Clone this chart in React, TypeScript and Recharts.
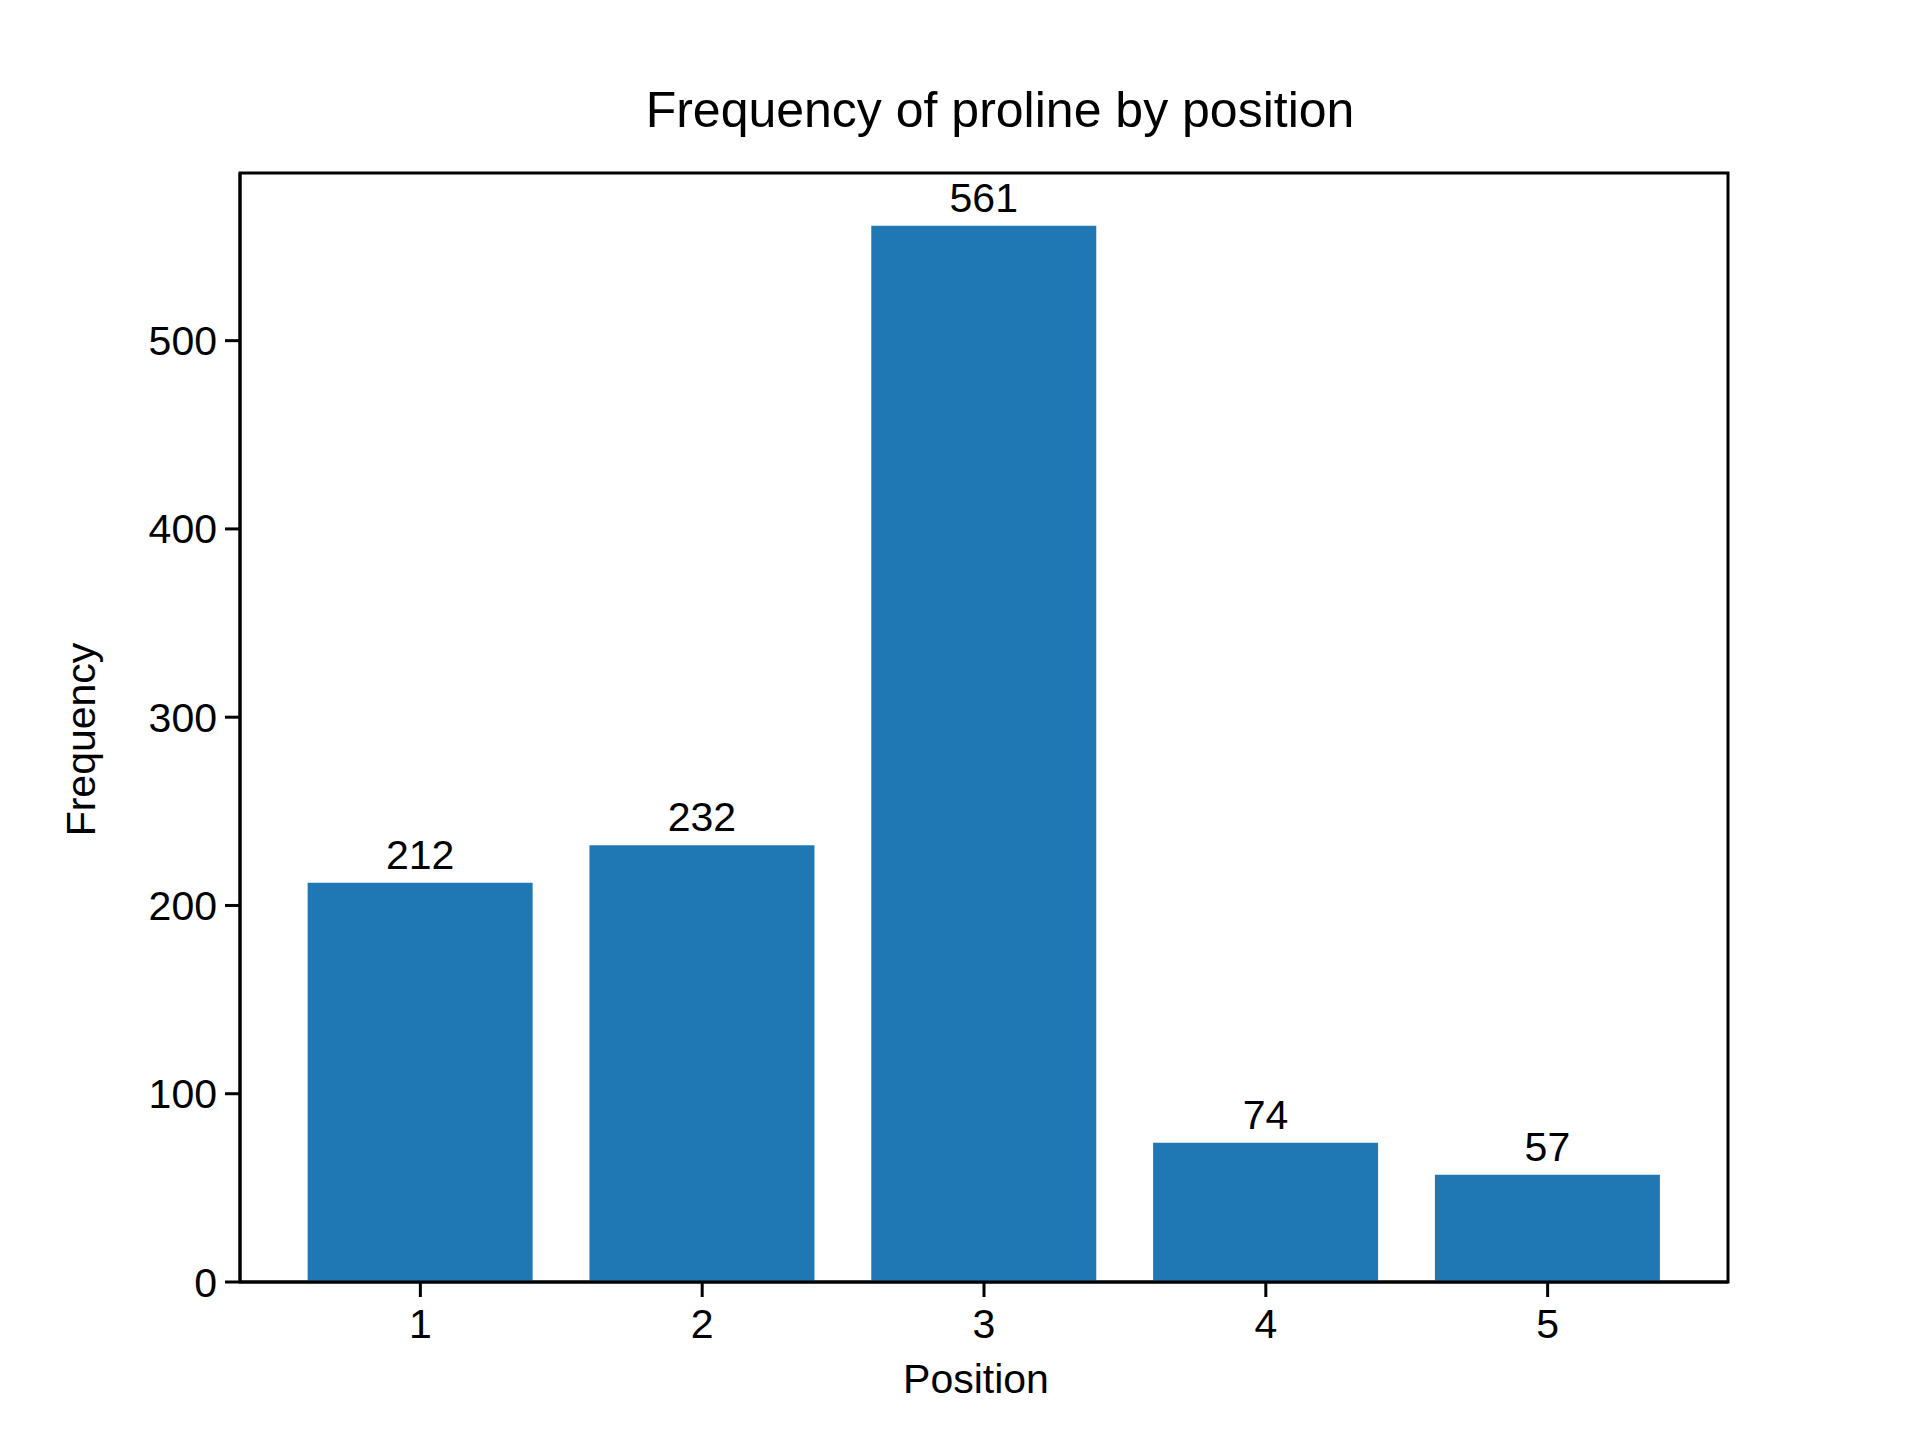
import { BarChart, Bar, XAxis, YAxis, LabelList, Label, ReferenceArea } from 'recharts';

const positions = [1, 2, 3, 4, 5];
const frequencies = [212, 232, 561, 74, 57];
const yTicks = [0, 100, 200, 300, 400, 500];
const xDomain = [0.36, 5.64];
const yDomain = [0, 589.05];

const chartData = positions.map((position, i) => ({ position, frequency: frequencies[i] }));

const FONT = '"Liberation Sans", Arial, Helvetica, sans-serif';
const axisLine = { stroke: '#000', strokeWidth: 3 };
const tickStyle = { fill: '#000', fontSize: 41, fontFamily: FONT };

const YAxisTitle = (props: any) => {
  const { viewBox } = props;
  const cx = 81;
  const cy = viewBox.y + viewBox.height / 2 + 12;
  return (
    <text
      x={cx}
      y={cy}
      transform={`rotate(-90, ${cx}, ${cy})`}
      textAnchor="middle"
      dominantBaseline="central"
      fontSize={41}
      fontFamily={FONT}
      fill="#000"
    >
      Frequency
    </text>
  );
};

const XAxisTitle = (props: any) => {
  const { viewBox } = props;
  return (
    <text
      x={viewBox.x + viewBox.width / 2 - 8}
      y={1379}
      textAnchor="middle"
      dominantBaseline="central"
      fontSize={41}
      fontFamily={FONT}
      fill="#000"
    >
      Position
    </text>
  );
};

export default function App() {
  return (
    <div style={{ position: 'absolute', left: 0, top: 0, width: 1920, height: 1440, background: '#fff' }}>
      <div
        style={{
          position: 'absolute',
          left: 256,
          width: 1488,
          top: 80,
          textAlign: 'center',
          fontFamily: FONT,
          fontSize: 50,
          lineHeight: '60px',
          color: '#000',
        }}
      >
        Frequency of proline by position
      </div>
      <BarChart
        width={1920}
        height={1440}
        data={chartData}
        margin={{ top: 173, right: 192, bottom: 98, left: 160 }}
        barCategoryGap="10%"
      >
        <XAxis
          dataKey="position"
          type="number"
          domain={xDomain}
          ticks={positions}
          allowDataOverflow
          height={60}
          tick={tickStyle}
          tickSize={15}
          tickMargin={12}
          tickLine={axisLine}
          axisLine={axisLine}
        >
          <Label content={<XAxisTitle />} />
        </XAxis>
        <YAxis
          width={80}
          domain={yDomain}
          ticks={yTicks}
          tick={tickStyle}
          tickSize={15}
          tickMargin={8}
          tickLine={axisLine}
          axisLine={axisLine}
        >
          <Label content={<YAxisTitle />} />
        </YAxis>
        <Bar dataKey="frequency" fill="#1f77b4" isAnimationActive={false}>
          <LabelList
            dataKey="frequency"
            position="top"
            offset={14}
            fill="#000"
            fontSize={41}
            fontFamily={FONT}
          />
        </Bar>
        <ReferenceArea
          y1={yDomain[0]}
          y2={yDomain[1]}
          fill="none"
          fillOpacity={0}
          stroke="#000"
          strokeWidth={3}
          strokeOpacity={1}
          ifOverflow="visible"
        />
      </BarChart>
    </div>
  );
}
